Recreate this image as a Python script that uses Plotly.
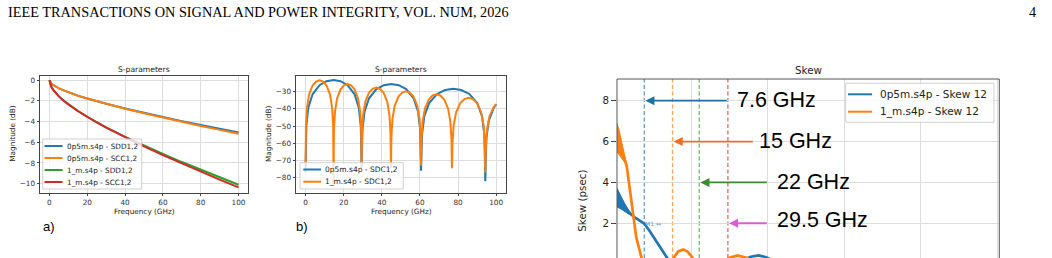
import plotly.graph_objects as go

W, H = 1052, 258

# ---------------- data ----------------
# a) insertion loss (dB)
freq_a = [0, 0.5, 1, 2, 3, 5, 7.5, 10, 15, 20, 25, 30, 40, 50, 60, 70, 80, 90, 100]
sdd_0p5m = [0, -0.23, -0.33, -0.47, -0.59, -0.79, -0.99, -1.17, -1.49, -1.77, -2.03, -2.28,
            -2.73, -3.16, -3.57, -3.96, -4.33, -4.69, -5.05]
scc_0p5m = [0, -0.23, -0.33, -0.47, -0.59, -0.79, -0.99, -1.17, -1.50, -1.78, -2.04, -2.30,
            -2.76, -3.20, -3.62, -4.03, -4.42, -4.80, -5.18]
sdd_1m = [0, -0.45, -0.65, -0.95, -1.18, -1.57, -1.98, -2.34, -2.97, -3.54, -4.06, -4.55,
          -5.47, -6.32, -7.13, -7.91, -8.66, -9.39, -10.10]
scc_1m = [0, -0.45, -0.65, -0.95, -1.18, -1.57, -1.98, -2.35, -2.98, -3.56, -4.09, -4.58,
          -5.52, -6.40, -7.24, -8.05, -8.83, -9.60, -10.35]

# b) mode conversion SDC1,2 (dB)
freq_sdc_0p5m = [0, 0.44, 1.47, 3.68, 7.35, 11.03, 14.7, 18.38, 22.05, 25.73, 27.93, 28.96,
                 29.4, 29.87, 30.96, 33.3, 37.2, 41.1, 45.0, 48.9, 52.8, 56.7, 59.04, 60.13,
                 60.6, 61.11, 62.29, 64.81, 69.03, 73.24, 77.45, 81.66, 85.88, 90.09, 92.62, 93.79,
                 94.3, 94.84, 96.1, 98.8, 100]
sdc_0p5m = [-77, -49.8, -39.4, -31.6, -26.3, -24.0, -23.3, -24.0, -26.3, -31.6, -39.4, -49.8,
            -74, -52.1, -41.7, -33.9, -28.6, -26.3, -25.6, -26.3, -28.6, -33.9, -41.7, -52.1,
            -76, -54.9, -44.5, -36.7, -31.4, -29.1, -28.4, -29.1, -31.4, -36.7, -44.5, -54.9,
            -82, -57.5, -47.1, -39.3, -37.4]
freq_sdc_1m = [0, 0.22, 0.74, 1.84, 3.68, 5.51, 7.35, 9.19, 11.03, 12.86, 13.97, 14.48,
               14.7, 14.92, 15.44, 16.54, 18.38, 20.21, 22.05, 23.89, 25.73, 27.56, 28.67, 29.18,
               29.4, 29.63, 30.17, 31.33, 33.25, 35.18, 37.1, 39.03, 40.95, 42.88, 44.03, 44.57,
               44.8, 45.04, 45.59, 46.78, 48.75, 50.73, 52.7, 54.68, 56.65, 58.63, 59.81, 60.36,
               60.6, 60.84, 61.41, 62.63, 64.65, 66.68, 68.7, 70.73, 72.75, 74.78, 75.99, 76.56,
               76.8, 77.06, 77.68, 78.99, 81.18, 83.36, 85.55, 87.74, 89.93, 92.11, 93.43, 94.04,
               94.3, 94.57, 95.2, 96.55, 98.8, 100]
sdc_1m = [-72, -50.0, -39.6, -31.8, -26.5, -24.2, -23.5, -24.2, -26.5, -31.8, -39.6, -50.0,
          -85, -52.2, -41.8, -34.0, -28.7, -26.4, -25.7, -26.4, -28.7, -34.0, -41.8, -52.2,
          -74, -54.2, -43.8, -36.0, -30.7, -28.4, -27.7, -28.4, -30.7, -36.0, -43.8, -54.2,
          -74.5, -56.4, -46.0, -38.2, -32.9, -30.6, -29.9, -30.6, -32.9, -38.2, -46.0, -56.4,
          -73, -58.1, -47.7, -39.9, -34.6, -32.3, -31.6, -32.3, -34.6, -39.9, -47.7, -58.1,
          -74.5, -60.2, -49.8, -42.0, -36.7, -34.4, -33.7, -34.4, -36.7, -42.0, -49.8, -60.2,
          -77, -62.3, -51.9, -44.1, -38.8, -37.4]

# c) skew (psec)
freq_skew_0p5m = [0.45, 1, 2, 3, 4, 5, 6, 7.6, 9, 10.5, 12, 13.5, 15, 17, 20, 25, 30, 33,
                  35.5, 37.5, 39.5, 42, 46, 50, 60, 70, 80, 90, 100]
skew_0p5m = [3.26, 3.1, 2.85, 2.62, 2.45, 2.3, 2.18, 1.98, 1.62, 1.18, 0.74, 0.3, -0.1, -0.4,
             -0.45, -0.3, -0.05, 0.15, 0.36, 0.43, 0.34, 0.1, -0.1, -0.05, 0.05, 0.0, 0.05, 0.0, 0.05]
band_freq_0p5m = [0.45, 1.5, 2.5, 3.5, 4.4, 3.5, 2.5, 1.5, 0.45]
band_skew_0p5m = [3.71, 3.3, 2.95, 2.65, 2.42, 2.45, 2.58, 2.7, 2.8]

freq_skew_1m = [0.45, 1, 2, 3, 4, 4.8, 5.5, 6.9, 8, 10, 12, 14, 15.2, 16.5, 17.8, 19, 20.4,
                22, 25, 28, 29.8, 32, 34.6, 36.5, 40, 50, 60, 70, 80, 90, 100]
skew_1m = [6.2, 5.95, 5.4, 4.8, 3.4, 2.15, 1.3, 0.29, -0.4, -0.9, -0.7, -0.1, 0.29, 0.62, 0.72,
           0.6, 0.29, -0.1, -0.3, 0.0, 0.3, 0.43, 0.3, 0.05, -0.1, 0.0, 0.05, 0.0, 0.05, 0.0, 0.0]
band_freq_1m = [0.45, 1.0, 2.0, 3.0, 2.0, 1.0, 0.45]
band_skew_1m = [6.89, 6.55, 5.7, 4.85, 5.1, 5.35, 5.5]

marker_freqs = [7.6, 15, 22, 29.5]
marker_labels = ["7.6 GHz", "15 GHz", "22 GHz", "29.5 GHz"]

# ---------------- styles ----------------
C0, C1, C2, C3 = "#1f77b4", "#ff7f0e", "#2ca02c", "#d62728"
DASH_COLS = ["#62a0ca", "#ffa556", "#6bbc6b", "#e26868"]
ARROW_COLS = ["#1f6ea5", "#f26b21", "#3b8b2f", "#d65fd6"]
GRID = "#dddddd"
FRAME = "#444444"
TICKF = dict(family="DejaVu Sans", size=7.3, color="#333333")


def px(xp):
    return xp / W


def py(yp):
    return 1 - yp / H


fig = go.Figure()

# a)
for y, c in [(sdd_0p5m, C0), (scc_0p5m, C1), (sdd_1m, C2), (scc_1m, C3)]:
    fig.add_trace(go.Scatter(x=freq_a, y=y, mode="lines", line=dict(color=c, width=2),
                             xaxis="x", yaxis="y", showlegend=False))
# b)
fig.add_trace(go.Scatter(x=freq_sdc_0p5m, y=sdc_0p5m, mode="lines", line=dict(color=C0, width=2),
                         xaxis="x2", yaxis="y2", showlegend=False))
fig.add_trace(go.Scatter(x=freq_sdc_1m, y=sdc_1m, mode="lines", line=dict(color=C1, width=2),
                         xaxis="x2", yaxis="y2", showlegend=False))
# c)
fig.add_trace(go.Scatter(x=band_freq_0p5m, y=band_skew_0p5m, mode="lines", fill="toself",
                         fillcolor=C0, line=dict(color=C0, width=1), xaxis="x3", yaxis="y3",
                         showlegend=False))
fig.add_trace(go.Scatter(x=freq_skew_0p5m, y=skew_0p5m, mode="lines", line=dict(color=C0, width=2.7),
                         xaxis="x3", yaxis="y3", showlegend=False))
fig.add_trace(go.Scatter(x=band_freq_1m, y=band_skew_1m, mode="lines", fill="toself",
                         fillcolor=C1, line=dict(color=C1, width=1), xaxis="x3", yaxis="y3",
                         showlegend=False))
fig.add_trace(go.Scatter(x=freq_skew_1m, y=skew_1m, mode="lines", line=dict(color=C1, width=2.7),
                         xaxis="x3", yaxis="y3", showlegend=False))

ax_common = dict(showgrid=True, gridcolor=GRID, gridwidth=1, zeroline=False, showline=True,
                 linecolor=FRAME, linewidth=1, mirror=True, ticks="outside", ticklen=2.5,
                 tickcolor=FRAME, tickfont=TICKF)

fig.update_layout(
    width=W, height=H, autosize=False,
    margin=dict(l=0, r=0, t=0, b=0),
    paper_bgcolor="white", plot_bgcolor="white",
    xaxis=dict(domain=[px(40), px(248)], range=[-5, 105], tick0=0, dtick=20, anchor="y", **ax_common),
    yaxis=dict(domain=[py(192.7), py(75.5)], range=[-10.87, 0.45], tick0=0, dtick=2, anchor="x",
               **ax_common),
    xaxis2=dict(domain=[px(296), px(505.7)], range=[-5, 105], tick0=0, dtick=20, anchor="y2",
                **ax_common),
    yaxis2=dict(domain=[py(192.7), py(75.5)], range=[-88.7, -20.7], tick0=0, dtick=10, anchor="x2",
                **ax_common),
    xaxis3=dict(domain=[px(617), px(999.3)], range=[0.45, 100.6], tick0=0, dtick=20, anchor="y3",
                showgrid=True, gridcolor=GRID, zeroline=False, showline=False,
                showticklabels=False, ticks=""),
    yaxis3=dict(domain=[0, py(79)], range=[0.30, 9.06], tick0=0, dtick=2, anchor="x3",
                showgrid=True, gridcolor=GRID, zeroline=False, showline=False,
                ticks="outside", ticklen=5, tickcolor=FRAME,
                tickfont=dict(family="DejaVu Sans", size=10.3, color="#222222")),
)

shapes = []
ann = []

# skew frame (left, top, right)
for (x0, y0, x1, y1) in [(0, 0, 0, 1), (0, 1, 1, 1), (1, 1, 1, 0)]:
    shapes.append(dict(type="line", xref="x3 domain", yref="y3 domain", x0=x0, y0=y0, x1=x1, y1=y1,
                       line=dict(color="#555555", width=1), layer="above"))

# dashed marker lines
for f, c in zip(marker_freqs, DASH_COLS):
    shapes.append(dict(type="line", xref="x3", yref="y3 domain", x0=f, x1=f, y0=0, y1=1,
                       line=dict(color=c, width=1.3, dash="4px,2.5px"), layer="below"))

# arrows + big labels
arrow_y = [8, 6, 4, 2]
arrow_tail = [29.6, 36.4, 40.1, 40.1]
label_pos = [(31.9, 8.03), (37.7, 6.02), (42.4, 4.0), (42.4, 2.16)]
for f, yv, tail, col, lab, (lx, ly) in zip(marker_freqs, arrow_y, arrow_tail, ARROW_COLS,
                                            marker_labels, label_pos):
    ann.append(dict(x=f + 0.3, y=yv, xref="x3", yref="y3", ax=tail, ay=yv, axref="x3", ayref="y3",
                    text="", showarrow=True, arrowhead=2, arrowsize=1, arrowwidth=1.8,
                    arrowcolor=col, standoff=0))
    ann.append(dict(x=lx, y=ly, xref="x3", yref="y3", text=lab, showarrow=False, xanchor="left",
                    yanchor="middle", borderpad=0, borderwidth=0,
                    font=dict(family="Liberation Sans", size=21.5, color="black")))

# marker tag
ann.append(dict(x=7.9, y=1.97, xref="x3", yref="y3", text="M1 ↔", showarrow=False, xanchor="left",
                yanchor="middle", borderpad=0, borderwidth=0,
                font=dict(family="DejaVu Sans", size=6, color="#5a9fd4")))


def legend_box(x0, x1, y0, y1, items, sample, tx, fsize):
    shapes.append(dict(type="rect", xref="paper", yref="paper", x0=px(x0), x1=px(x1), y0=py(y1),
                       y1=py(y0), line=dict(color="#d0d0d0", width=1),
                       fillcolor="rgba(255,255,255,0.8)", layer="above"))
    for (yy, col, label) in items:
        shapes.append(dict(type="line", xref="paper", yref="paper", x0=px(sample[0]), x1=px(sample[1]),
                           y0=py(yy), y1=py(yy), line=dict(color=col, width=2), layer="above"))
        ann.append(dict(x=px(tx), y=py(yy), xref="paper", yref="paper", text=label, showarrow=False,
                        xanchor="left", yanchor="middle", borderpad=0, borderwidth=0,
                        font=dict(family="DejaVu Sans", size=fsize, color="#222222")))


legend_box(42.7, 141.7, 139, 189,
           [(146, C0, "0p5m.s4p - SDD1,2"), (158, C1, "0p5m.s4p - SCC1,2"),
            (170, C2, "1_m.s4p - SDD1,2"), (182, C3, "1_m.s4p - SCC1,2")],
           (44.5, 62.5), 66.5, 7.3)
legend_box(300, 403.3, 162.7, 189,
           [(169.5, C0, "0p5m.s4p - SDC1,2"), (181.7, C1, "1_m.s4p - SDC1,2")],
           (303.3, 321), 325, 7.5)
legend_box(845.7, 994, 83.3, 122.3,
           [(94.3, C0, "0p5m.s4p - Skew 12"), (111.7, C1, "1_m.s4p - Skew 12")],
           (848, 872), 880, 10.5)


def text_px(x, y, s, size, family="DejaVu Sans", color="#222222", xanchor="center", angle=0):
    ann.append(dict(x=px(x), y=py(y), xref="paper", yref="paper", text=s, showarrow=False,
                    xanchor=xanchor, yanchor="middle", textangle=angle, borderpad=0, borderwidth=0,
                    font=dict(family=family, size=size, color=color)))


# titles and axis titles
text_px(144, 69, "S-parameters", 7.6)
text_px(401, 69, "S-parameters", 7.6)
text_px(144, 211, "Frequency (GHz)", 7.3)
text_px(401, 211, "Frequency (GHz)", 7.3)
text_px(11.7, 134, "Magnitude (dB)", 7.3, angle=-90)
text_px(268, 134, "Magnitude (dB)", 7.3, angle=-90)
text_px(808, 70, "Skew", 10.3)
text_px(581.7, 201, "Skew (psec)", 10.3, angle=-90)

# panel letters
text_px(43, 226.5, "a)", 13, family="Liberation Sans", color="black", xanchor="left")
text_px(295.7, 226.5, "b)", 13, family="Liberation Sans", color="black", xanchor="left")

# page header
text_px(8, 11.8, "IEEE TRANSACTIONS ON SIGNAL AND POWER INTEGRITY, VOL. NUM, 2026", 14.3,
        family="Liberation Serif", color="black", xanchor="left")
text_px(1032.7, 11.8, "4", 14.3, family="Liberation Serif", color="black")

fig.update_layout(shapes=shapes, annotations=ann)
fig.write_html("out.html")
